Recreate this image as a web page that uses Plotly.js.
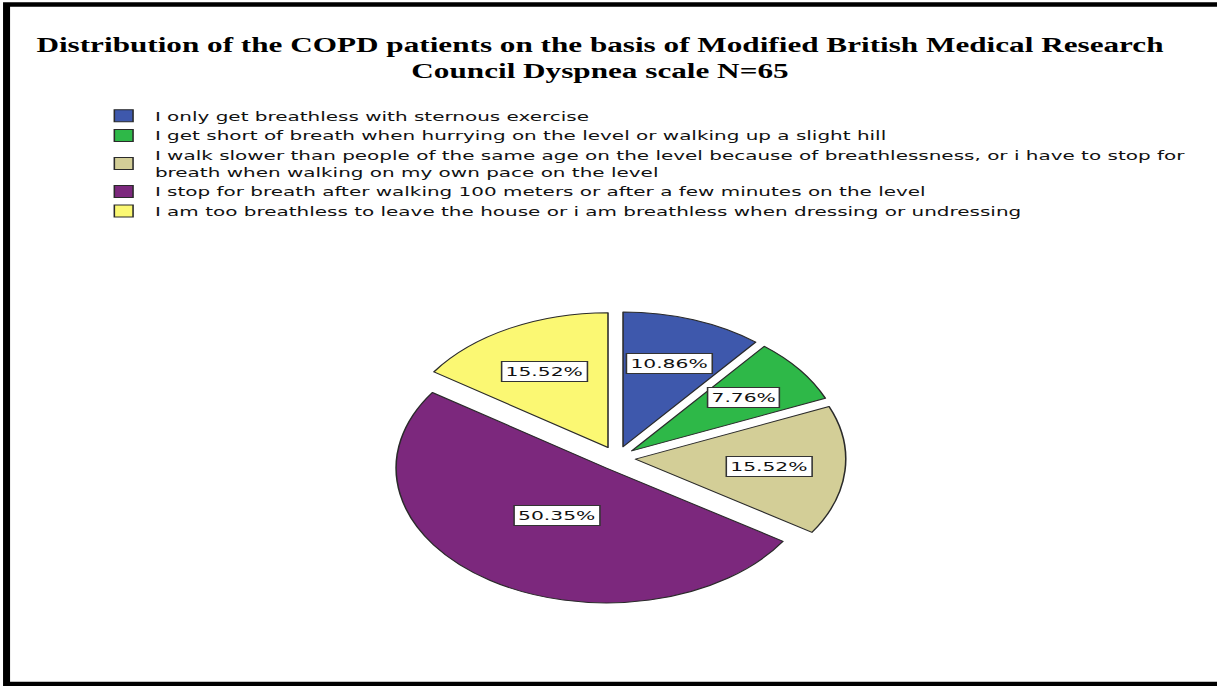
<!DOCTYPE html>
<html>
<head>
<meta charset="utf-8">
<script src="https://cdn.plot.ly/plotly-3.0.1.min.js"></script>
<style>
  html, body { margin: 0; padding: 0; background: #fff; overflow: hidden; }
  #wrap { width: 1217px; height: 686px; overflow: hidden; position: relative; }
  #chart { width: 780px; height: 686px; transform: scaleX(1.56026); transform-origin: 0 0; }
</style>
</head>
<body>
<div id="wrap"><div id="chart"></div></div>
<script>
// ---- data ----
const categories = [
  "I only get breathless with sternous exercise",
  "I get short of breath when hurrying on the level or walking up a slight hill",
  "I walk slower than people of the same age on the level because of breathlessness, or i have to stop for<br>breath when walking on my own pace on the level",
  "I stop for breath after walking 100 meters or after a few minutes on the level",
  "I am too breathless to leave the house or i am breathless when dressing or undressing"
];
const percents = [10.86, 7.76, 15.52, 50.35, 15.52];
const sliceColors = ["#3E58AC", "#2EB848", "#D3CE97", "#7C287D", "#FBF873"];
const titleText = "Distribution of the COPD patients on the basis of Modified British Medical Research<br>Council Dyspnea scale N=65";

// ---- layout geometry ----
const W = 780, H = 686;
const pull = 0.089;
const dom = { x: [0.3186, 0.6950], y: [0.1160, 0.5484] };

const R = Math.min((dom.x[1] - dom.x[0]) * W, (dom.y[1] - dom.y[0]) * H) / (2 + 2 * pull);
const cx = W * (dom.x[0] + dom.x[1]) / 2;
const cy = H * (1 - dom.y[0]) - (dom.y[1] - dom.y[0]) * H / 2;

const total = percents.reduce((a, b) => a + b, 0);
let acc = 0;
const annotations = percents.map((v) => {
  const a0 = acc / total * 2 * Math.PI;
  acc += v;
  const a1 = acc / total * 2 * Math.PI;
  const m = (a0 + a1) / 2, h = (a1 - a0) / 2;
  const d = (2 / 3) * Math.sin(h) / h + pull;
  const px = cx + Math.sin(m) * d * R;
  const py = cy - Math.cos(m) * d * R;
  return {
    x: px / W, y: 1 - py / H, xref: "paper", yref: "paper",
    text: v.toFixed(2) + "%", showarrow: false,
    xanchor: "center", yanchor: "middle",
    font: { family: "DejaVu Sans", size: 13, color: "#111" },
    bgcolor: "#ffffff", bordercolor: "#333333", borderwidth: 1, borderpad: 2
  };
});

const trace = {
  type: "pie",
  labels: categories,
  values: percents,
  sort: false,
  direction: "clockwise",
  rotation: 0,
  pull: pull,
  textinfo: "none",
  hoverinfo: "label+percent",
  marker: { colors: sliceColors, line: { color: "#2a2a2a", width: 1 } },
  domain: dom
};

const layout = {
  width: W, height: H,
  margin: { l: 0, r: 0, t: 0, b: 0 },
  paper_bgcolor: "#ffffff",
  plot_bgcolor: "#ffffff",
  title: {
    text: titleText,
    font: { family: "Liberation Serif", size: 20, color: "#000", weight: "bold" },
    x: 0.493, xanchor: "center", xref: "paper",
    y: 1 - 52 / H, yanchor: "top", yref: "container"
  },
  showlegend: true,
  legend: {
    x: 0.076, y: 1 - 101 / H, xanchor: "left", yanchor: "top",
    font: { family: "DejaVu Sans", size: 12.8, color: "#111" },
    bgcolor: "rgba(0,0,0,0)", traceorder: "normal"
  },
  annotations: annotations,
  shapes: [{
    type: "path", xref: "paper", yref: "paper",
    path: "M 1.2," + (1 - 4.5 / H) + " L " + (4.2 / W) + "," + (1 - 4.5 / H) +
          " L " + (4.2 / W) + "," + (1 - 684 / H) + " L 1.2," + (1 - 684 / H),
    line: { color: "#000", width: 4.5 }, fillcolor: "rgba(0,0,0,0)"
  }]
};

Plotly.newPlot("chart", [trace], layout, { displayModeBar: false, staticPlot: true });
</script>
</body>
</html>
